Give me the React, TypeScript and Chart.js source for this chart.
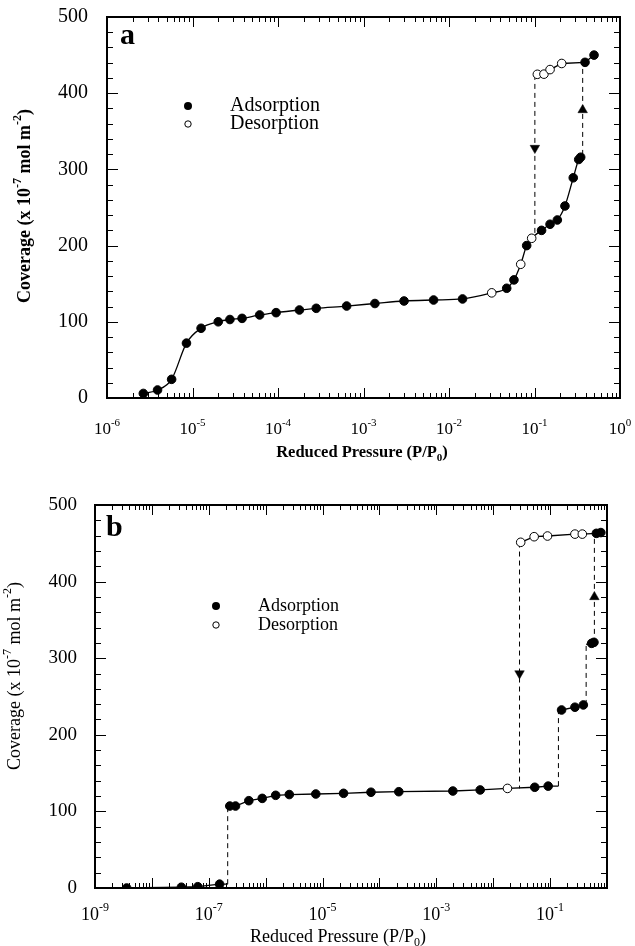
import React, { useEffect, useRef } from "react";
import { Chart, registerables } from "chart.js";
Chart.register(...registerables);

// ---------- Panel a data ----------
const adsA_x = [2.66e-6, 3.9e-6, 5.7e-6, 8.5e-6, 1.26e-5, 2.0e-5, 2.74e-5, 3.8e-5, 6.1e-5, 9.5e-5, 1.78e-4, 2.8e-4, 6.35e-4, 1.36e-3, 2.98e-3, 6.6e-3, 1.44e-2, 4.73e-2, 5.75e-2, 8.1e-2, 0.121, 0.152, 0.185, 0.227, 0.284, 0.329, 0.347, 0.39, 0.497];
const adsA_y = [6, 10.5, 24.5, 72, 91.5, 100, 103, 104.5, 109, 112, 115.5, 117.7, 120.7, 124, 127.3, 128.6, 130, 144, 155, 200, 220, 228, 233.6, 252, 289, 313, 316, 440.5, 450];
const desA_x = [0.0316, 0.069, 0.0927, 0.108, 0.129, 0.152, 0.208];
const desA_y = [138, 175.5, 209.6, 424.8, 425, 431, 439];
const dropA_x = 0.101; const dropA_y = [424, 212]; const dropArrowA_y = 328;
const jumpA_x = 0.366; const jumpA_y = [319, 441]; const jumpArrowA_y = 378;

// ---------- Panel b data ----------
const adsB_x = [3.6e-9, 3.3e-8, 6.4e-8, 1.55e-7, 2.34e-7, 2.95e-7, 5.06e-7, 8.7e-7, 1.5e-6, 2.6e-6, 7.6e-6, 2.34e-5, 7.1e-5, 2.19e-4, 1.95e-3, 5.9e-3, 5.37e-2, 9.25e-2, 0.159, 0.273, 0.384, 0.537, 0.59, 0.65, 0.78];
const adsB_y = [0, 1, 1.7, 5, 107, 107, 114, 117, 121, 122, 122.7, 123.6, 125, 125.7, 126.6, 128, 131.5, 133, 232.4, 236, 239, 319.4, 320.7, 463, 464];
const desB_x = [0.0178, 0.0304, 0.0524, 0.09, 0.273, 0.368];
const desB_y = [130, 451.3, 458.6, 459.5, 462, 462];
const stepB_x = [2.15e-7, 0.14, 0.43, 0.6];
const stepB_lo = [5, 133, 239, 320];
const stepB_hi = [107, 232, 318, 463];
const jumpArrowB_y = 380;
const dropB_x = 0.029; const dropB_y = [451, 130]; const dropArrowB_y = 280;

// ---------- Axes / text ----------
const Y_MIN = 0, Y_MAX = 500, Y_MAJOR = 100, Y_MINOR = 20;
const X_MINOR_MULTS = [2, 3, 4, 5, 6, 7, 8, 9];
const xLabelExpsA = [-6, -5, -4, -3, -2, -1, 0];
const xLabelExpsB = [-9, -7, -5, -3, -1];
const LEGEND_ADS = "Adsorption";
const LEGEND_DES = "Desorption";

type Run = { t: string; s?: "sup" | "sub" };
const Y_TITLE: Run[] = [{ t: "Coverage (x 10" }, { t: "-7", s: "sup" }, { t: " mol m" }, { t: "-2", s: "sup" }, { t: ")" }];
const X_TITLE: Run[] = [{ t: "Reduced Pressure (P/P" }, { t: "0", s: "sub" }, { t: ")" }];

const SERIF = '"Liberation Serif", "Times New Roman", "DejaVu Serif", serif';

function drawRuns(ctx: CanvasRenderingContext2D, runs: Run[], x: number, y: number, size: number, bold: boolean, rotate = 0, align: "center" | "left" = "center") {
  const w = bold ? "bold " : "";
  const base = `${w}${size}px ${SERIF}`;
  const small = `${w}${Math.round(size * 0.66)}px ${SERIF}`;
  ctx.save();
  ctx.translate(x, y);
  ctx.rotate(rotate);
  ctx.fillStyle = "#000";
  ctx.textBaseline = "middle";
  ctx.textAlign = "left";
  let total = 0;
  const widths = runs.map((r) => {
    ctx.font = r.s ? small : base;
    const m = ctx.measureText(r.t).width;
    total += m;
    return m;
  });
  let cx = align === "center" ? -total / 2 : 0;
  runs.forEach((r, i) => {
    ctx.font = r.s ? small : base;
    const dy = r.s === "sup" ? -size * 0.38 : r.s === "sub" ? size * 0.3 : 0;
    ctx.fillText(r.t, cx, dy);
    cx += widths[i];
  });
  ctx.restore();
}

const pts = (xs: number[], ys: number[]) => xs.map((x, i) => ({ x, y: ys[i] }));
const byX = (a: { x: number; y: number }[]) => a.slice().sort((p, q) => p.x - q.x);

interface Spec {
  width: number; height: number;
  pad: { left: number; right: number; top: number; bottom: number };
  yW: number; xH: number;
  xMin: number; xMax: number;
  labelExps: number[];
  yTickFont: number; yTickPad: number;
  xLabelY: number; xLabelFont: number;
  yTitleX: number; yTitleY: number; yTitleSize: number; yTitleBold: boolean;
  xTitleX: number; xTitleY: number; xTitleSize: number; xTitleBold: boolean;
  letter: string; letterX: number; letterY: number; letterSize: number;
  legX: number; legY1: number; legY2: number; legTextX: number; legFont: number;
  datasets: any[];
}

function makeDecor(s: Spec) {
  return {
    id: "decor",
    afterDraw(chart: any) {
      const ctx: CanvasRenderingContext2D = chart.ctx;
      const { left, right, top, bottom } = chart.chartArea;
      const xs = chart.scales.x, ys = chart.scales.y;
      ctx.save();
      ctx.strokeStyle = "#000";
      ctx.lineWidth = 1;
      const line = (a: number, b: number, c: number, d: number) => { ctx.beginPath(); ctx.moveTo(a, b); ctx.lineTo(c, d); ctx.stroke(); };
      const e0 = Math.floor(Math.log10(s.xMin)), e1 = Math.ceil(Math.log10(s.xMax));
      for (let e = e0; e <= e1; e++) {
        for (const m of [1, ...X_MINOR_MULTS]) {
          const v = m * Math.pow(10, e);
          if (v < s.xMin * 0.999 || v > s.xMax * 1.001) continue;
          const px = Math.round(xs.getPixelForValue(v)) + 0.5;
          const len = m === 1 ? 10 : 5;
          line(px, bottom, px, bottom - len);
          line(px, top, px, top + len);
        }
      }
      for (let v = Y_MIN; v <= Y_MAX; v += Y_MINOR) {
        const py = Math.round(ys.getPixelForValue(v)) + 0.5;
        const len = v % Y_MAJOR === 0 ? 11 : 6;
        line(left, py, left + len, py);
        line(right, py, right - len, py);
      }
      ctx.lineWidth = 2;
      ctx.strokeRect(left, top, right - left, bottom - top);
      // x tick labels
      for (const e of s.labelExps) {
        const px = xs.getPixelForValue(Math.pow(10, e));
        drawRuns(ctx, [{ t: "10" }, { t: String(e), s: "sup" }], px, s.xLabelY, s.xLabelFont, false);
      }
      drawRuns(ctx, Y_TITLE, s.yTitleX, s.yTitleY, s.yTitleSize, s.yTitleBold, -Math.PI / 2);
      drawRuns(ctx, X_TITLE, s.xTitleX, s.xTitleY, s.xTitleSize, s.xTitleBold);
      // panel letter
      ctx.fillStyle = "#000";
      ctx.font = `bold ${s.letterSize}px ${SERIF}`;
      ctx.textBaseline = "middle";
      ctx.textAlign = "left";
      ctx.fillText(s.letter, s.letterX, s.letterY);
      // legend
      ctx.beginPath();
      ctx.arc(s.legX, s.legY1, 4, 0, Math.PI * 2);
      ctx.fill();
      ctx.beginPath();
      ctx.lineWidth = 1;
      ctx.arc(s.legX, s.legY2, 3.2, 0, Math.PI * 2);
      ctx.fillStyle = "#fff";
      ctx.fill();
      ctx.stroke();
      ctx.fillStyle = "#000";
      ctx.font = `${s.legFont}px ${SERIF}`;
      ctx.fillText(LEGEND_ADS, s.legTextX, s.legY1);
      ctx.fillText(LEGEND_DES, s.legTextX, s.legY2);
      ctx.restore();
    },
  };
}

const filled = (data: any[]) => ({ data, pointRadius: 4.3, pointBackgroundColor: "#000", pointBorderColor: "#000", pointBorderWidth: 1, showLine: false });
const open = (data: any[]) => ({ data, pointRadius: 4.3, pointBackgroundColor: "#fff", pointBorderColor: "#000", pointBorderWidth: 1, showLine: false });
const arrow = (x: number, y: number, down: boolean) => ({ data: [{ x, y }], pointStyle: "triangle", pointRadius: 5.5, rotation: down ? 180 : 0, pointBackgroundColor: "#000", pointBorderColor: "#000", pointBorderWidth: 0.5, showLine: false });
const solid = (data: any[], smooth = false) => ({ data, showLine: true, pointRadius: 0, borderColor: "#000", borderWidth: 1.3, cubicInterpolationMode: smooth ? "monotone" : "default", tension: 0 });
const dashed = (data: any[]) => ({ data, showLine: true, pointRadius: 0, borderColor: "#000", borderWidth: 1, borderDash: [5, 4] });

const adsA = pts(adsA_x, adsA_y);
const desA = pts(desA_x, desA_y);
const datasetsA = [
  filled(adsA),
  open(desA),
  arrow(dropA_x, dropArrowA_y, true),
  arrow(jumpA_x, jumpArrowA_y, false),
  solid(byX([...adsA.slice(0, 27), ...desA.slice(0, 3)]), true),
  solid(byX([...desA.slice(3), ...adsA.slice(27)]), false),
  dashed([{ x: dropA_x, y: dropA_y[0] }, { x: dropA_x, y: dropA_y[1] }]),
  dashed([{ x: jumpA_x, y: jumpA_y[0] }, { x: jumpA_x, y: jumpA_y[1] }]),
];

const adsB = pts(adsB_x, adsB_y);
const desB = pts(desB_x, desB_y);
const st = (i: number, hi: boolean) => ({ x: stepB_x[i], y: hi ? stepB_hi[i] : stepB_lo[i] });
const datasetsB = [
  filled(adsB),
  open(desB),
  arrow(dropB_x, dropArrowB_y, true),
  arrow(stepB_x[3], jumpArrowB_y, false),
  solid([...adsB.slice(0, 4), st(0, false)]),
  solid([st(0, true), ...byX([...adsB.slice(4, 18), desB[0]]), st(1, false)]),
  solid([st(1, true), ...adsB.slice(18, 21), st(2, false)]),
  solid([st(2, true), ...adsB.slice(21, 23), st(3, false)]),
  solid([...desB.slice(1), ...adsB.slice(23)]),
  ...stepB_x.map((_, i) => dashed([st(i, false), st(i, true)])),
  dashed([{ x: dropB_x, y: dropB_y[0] }, { x: dropB_x, y: dropB_y[1] }]),
];

const specA: Spec = {
  width: 635, height: 470,
  pad: { left: 0, right: 15, top: 17, bottom: 0 }, yW: 107, xH: 72,
  xMin: 1e-6, xMax: 1, labelExps: xLabelExpsA,
  yTickFont: 20, yTickPad: 19,
  xLabelY: 430, xLabelFont: 17,
  yTitleX: 25, yTitleY: 206, yTitleSize: 18, yTitleBold: true,
  xTitleX: 362, xTitleY: 453, xTitleSize: 16.5, xTitleBold: true,
  letter: "a", letterX: 120, letterY: 36, letterSize: 30,
  legX: 188, legY1: 106, legY2: 124, legTextX: 230, legFont: 20,
  datasets: datasetsA,
};

const specB: Spec = {
  width: 635, height: 476,
  pad: { left: 0, right: 28, top: 35, bottom: 0 }, yW: 95, xH: 58,
  xMin: 1e-9, xMax: 1, labelExps: xLabelExpsB,
  yTickFont: 19, yTickPad: 18,
  xLabelY: 445, xLabelFont: 18,
  yTitleX: 15, yTitleY: 206, yTitleSize: 18, yTitleBold: false,
  xTitleX: 338, xTitleY: 467, xTitleSize: 18, xTitleBold: false,
  letter: "b", letterX: 106, letterY: 58, letterSize: 30,
  legX: 216, legY1: 136, legY2: 155, legTextX: 258, legFont: 18,
  datasets: datasetsB,
};

function Panel({ spec, top }: { spec: Spec; top: number }) {
  const ref = useRef<HTMLCanvasElement>(null);
  useEffect(() => {
    if (!ref.current) return;
    const s = spec;
    const chart = new Chart(ref.current, {
      type: "scatter",
      data: { datasets: s.datasets },
      options: {
        responsive: false,
        animation: false,
        devicePixelRatio: 1,
        layout: { padding: s.pad },
        events: [],
        plugins: { legend: { display: false }, tooltip: { enabled: false } },
        scales: {
          x: {
            type: "logarithmic",
            min: s.xMin,
            max: s.xMax,
            grid: { display: false, drawTicks: false },
            border: { display: false },
            ticks: { display: false },
            afterFit: (sc: any) => { sc.height = s.xH; sc.paddingLeft = 0; sc.paddingRight = 0; },
          },
          y: {
            type: "linear",
            min: Y_MIN,
            max: Y_MAX,
            grid: { display: false, drawTicks: false },
            border: { display: false },
            ticks: { stepSize: Y_MAJOR, color: "#000", padding: s.yTickPad, font: { family: SERIF, size: s.yTickFont } },
            afterFit: (sc: any) => { sc.width = s.yW; sc.paddingTop = 0; sc.paddingBottom = 0; },
          },
        },
      } as any,
      plugins: [makeDecor(s)],
    });
    return () => chart.destroy();
  }, [spec]);
  return <canvas ref={ref} width={spec.width} height={spec.height} style={{ position: "absolute", left: 0, top, width: spec.width, height: spec.height }} />;
}

export default function App() {
  return (
    <div style={{ position: "absolute", left: 0, top: 0, width: 635, height: 946, background: "#fff", overflow: "hidden" }}>
      <Panel spec={specA} top={0} />
      <Panel spec={specB} top={470} />
    </div>
  );
}
